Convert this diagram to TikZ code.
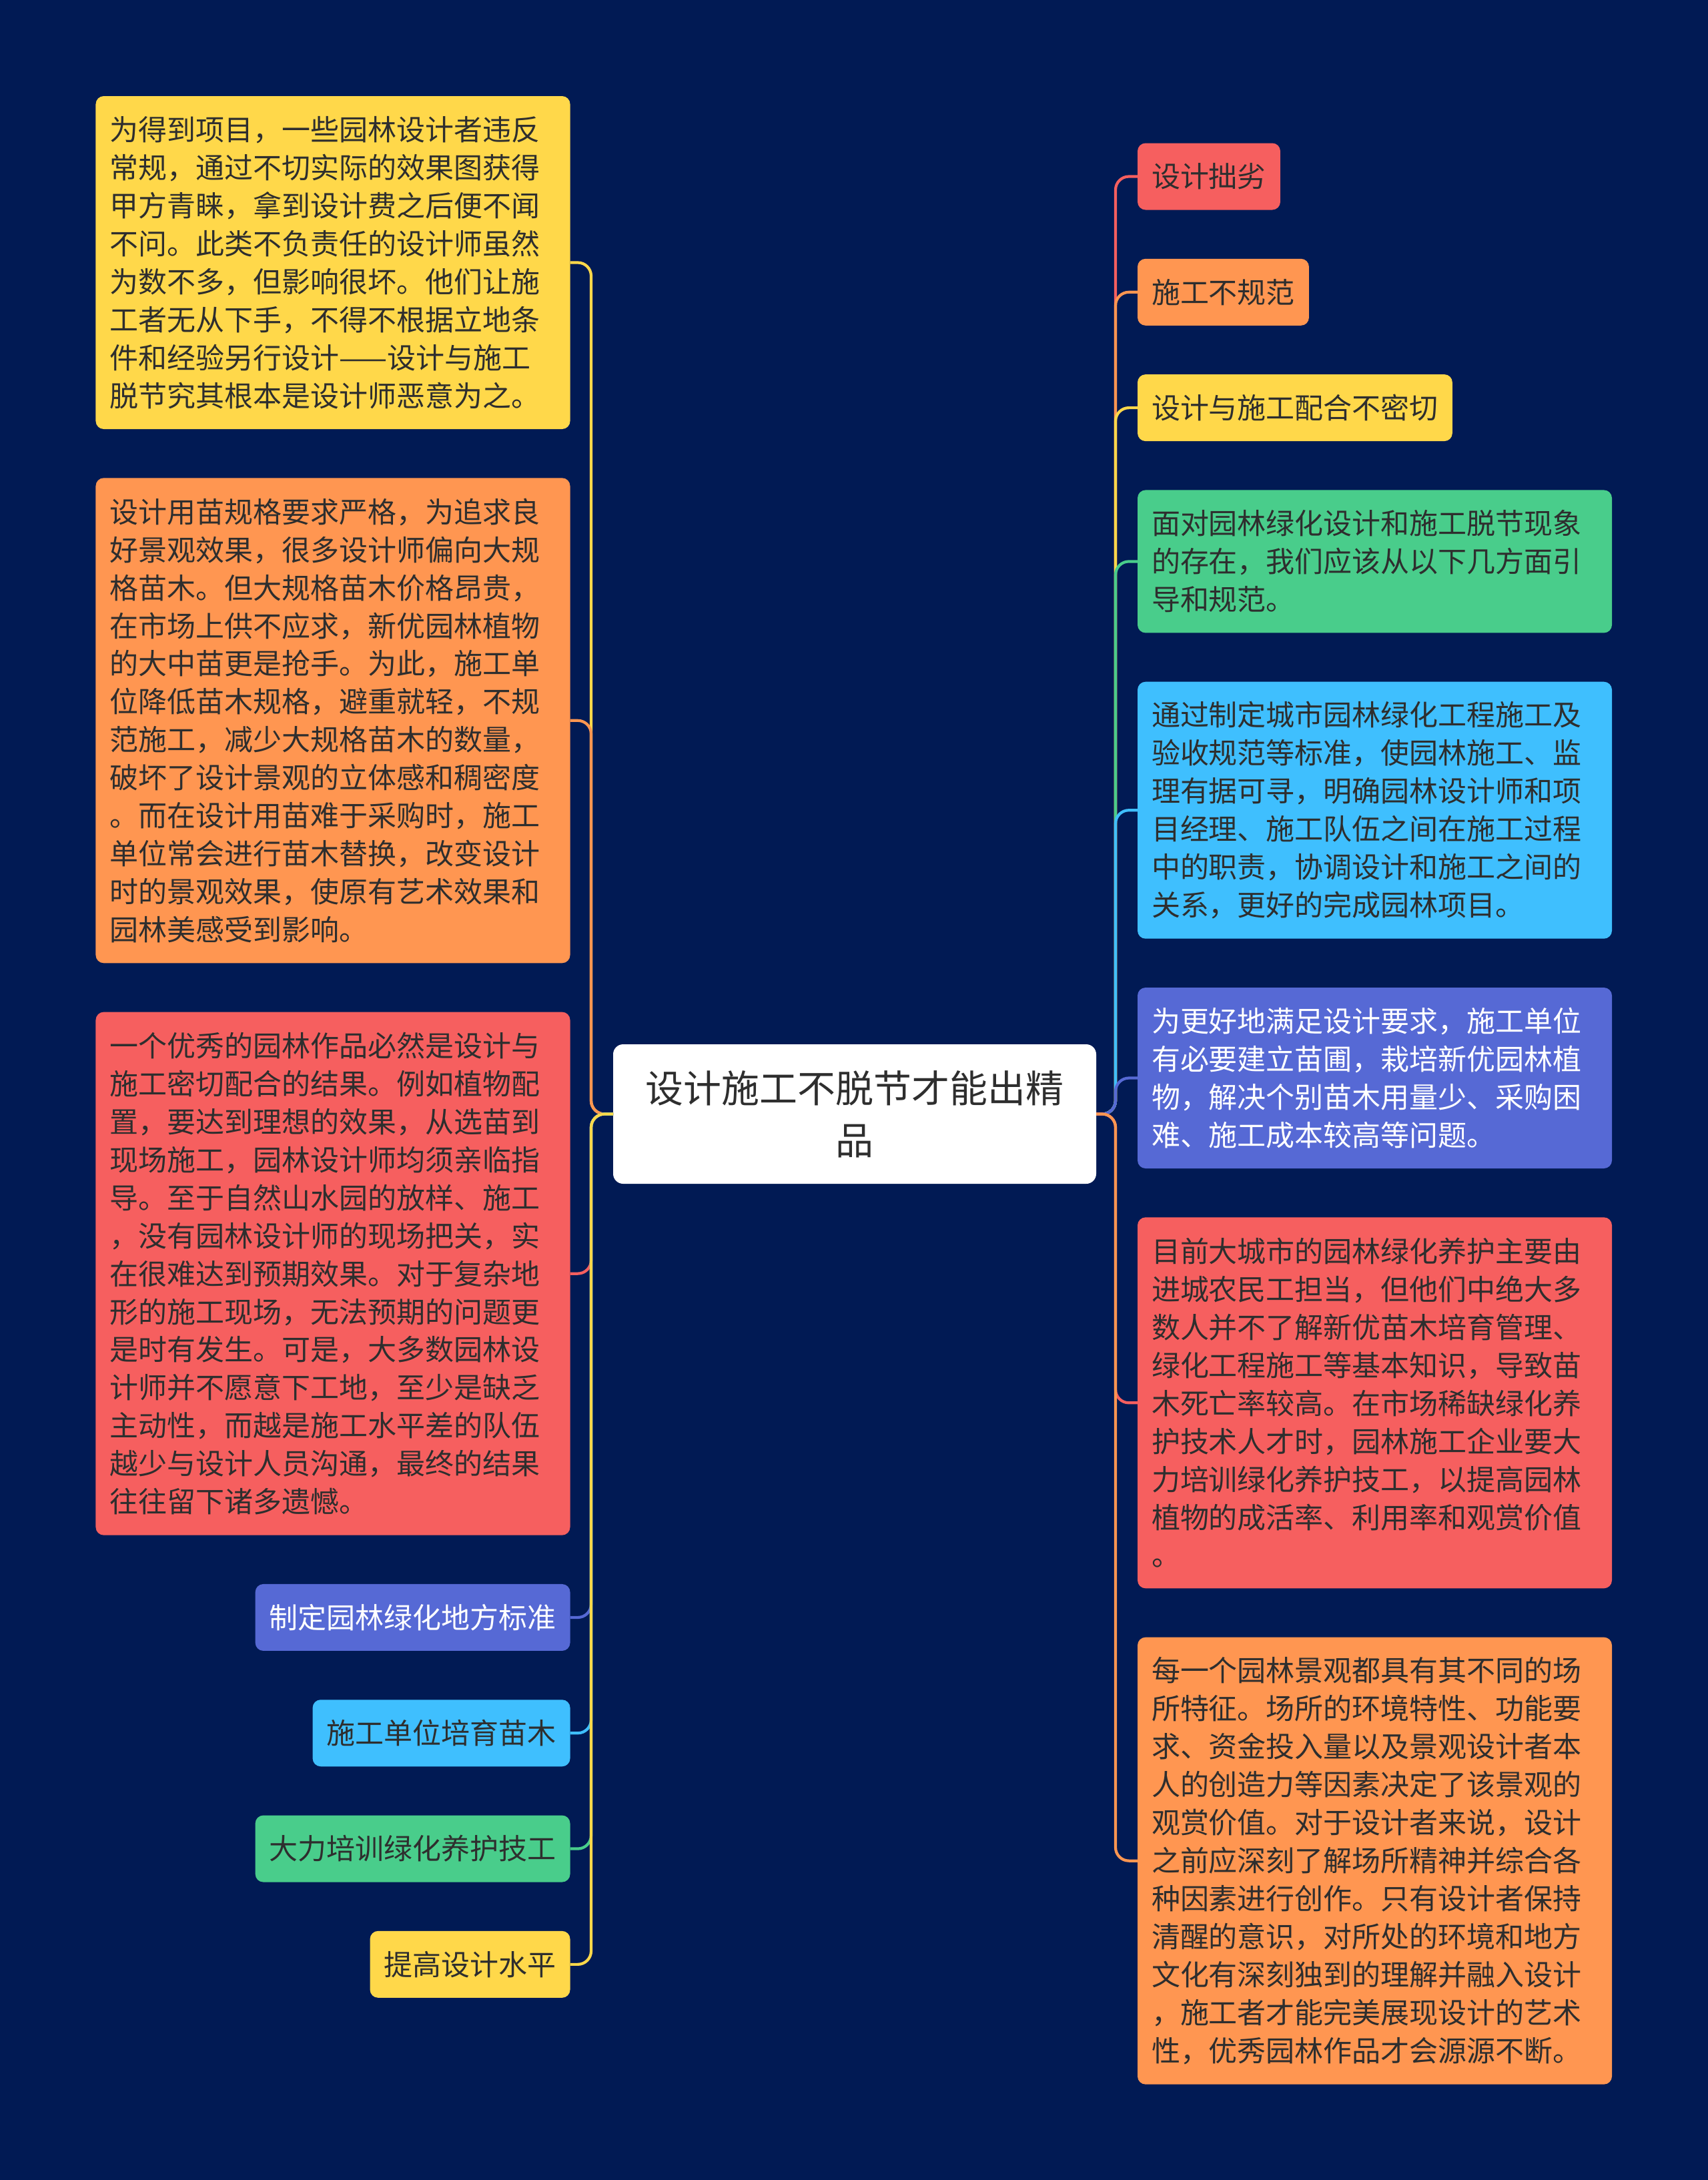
\documentclass[tikz,border=0pt]{standalone}
\usepackage{fontspec}
\newfontfamily\cjkfont{Noto Sans CJK SC}
\usetikzlibrary{positioning}
\definecolor{mapNavy}{HTML}{011A54}
\definecolor{mapRed}{HTML}{F65F5F}
\definecolor{mapOrange}{HTML}{FF9651}
\definecolor{mapYellow}{HTML}{FFD84A}
\definecolor{mapGreen}{HTML}{49CD8B}
\definecolor{mapSky}{HTML}{3FBFFE}
\definecolor{mapIndigo}{HTML}{5669D5}
\definecolor{inkDark}{HTML}{2E2E2E}

\begin{document}
\begin{tikzpicture}[
          box/.style={rounded corners=0.12cm,inner xsep=0.21cm,inner ysep=0.1cm,outer sep=0pt,
                      font=\cjkfont\fontsize{12.23}{16.2}\selectfont,text=inkDark,align=left},
          topic/.style={box,minimum height=1cm},
          para/.style={box,text width=6.69cm,minimum height={0.57cm*#1+0.43cm}},
          root/.style={fill=white,rounded corners=0.15cm,minimum width=7.24cm,minimum height=2.09cm,
                      outer sep=0pt,align=center,font=\cjkfont\fontsize{16.2}{22.2}\selectfont,text=inkDark},
          link/.style={draw=#1,line width=1.2pt,rounded corners=0.2cm}]
        \fill[mapNavy] (0,0) rectangle (25.6,-32.67);
        \useasboundingbox (0,0) rectangle (25.6,-32.67);
        \node[root] (root) at (12.81,-16.695) {设计施工不脱节才能出精\\品};
        \node[topic,fill=mapRed,anchor=north west] (r1) at (17.05,-2.145) {设计拙劣};
        \node[topic,fill=mapOrange,below=0.733cm of r1.south west,anchor=north west] (r2) {施工不规范};
        \node[topic,fill=mapYellow,below=0.733cm of r2.south west,anchor=north west] (r3) {设计与施工配合不密切};
        \node[para=3,fill=mapGreen,below=0.733cm of r3.south west,anchor=north west] (r4)
              {面对园林绿化设计和施工脱节现象\\的存在，我们应该从以下几方面引\\导和规范。};
        \node[para=6,fill=mapSky,below=0.733cm of r4.south west,anchor=north west] (r5)
              {通过制定城市园林绿化工程施工及\\验收规范等标准，使园林施工、监\\理有据可寻，明确园林设计师和项\\目经理、施工队伍之间在施工过程\\中的职责，协调设计和施工之间的\\关系，更好的完成园林项目。};
        \node[para=4,fill=mapIndigo,text=white,below=0.733cm of r5.south west,anchor=north west] (r6)
              {为更好地满足设计要求，施工单位\\有必要建立苗圃，栽培新优园林植\\物，解决个别苗木用量少、采购困\\难、施工成本较高等问题。};
        \node[para=9,fill=mapRed,below=0.733cm of r6.south west,anchor=north west] (r7)
              {目前大城市的园林绿化养护主要由\\进城农民工担当，但他们中绝大多\\数人并不了解新优苗木培育管理、\\绿化工程施工等基本知识，导致苗\\木死亡率较高。在市场稀缺绿化养\\护技术人才时，园林施工企业要大\\力培训绿化养护技工，以提高园林\\植物的成活率、利用率和观赏价值\\。};
        \node[para=11,fill=mapOrange,below=0.733cm of r7.south west,anchor=north west] (r8)
              {每一个园林景观都具有其不同的场\\所特征。场所的环境特性、功能要\\求、资金投入量以及景观设计者本\\人的创造力等因素决定了该景观的\\观赏价值。对于设计者来说，设计\\之前应深刻了解场所精神并综合各\\种因素进行创作。只有设计者保持\\清醒的意识，对所处的环境和地方\\文化有深刻独到的理解并融入设计\\，施工者才能完美展现设计的艺术\\性，优秀园林作品才会源源不断。};
        \node[para=8,fill=mapYellow,anchor=north east] (l1) at (8.545,-1.44)
              {为得到项目，一些园林设计者违反\\常规，通过不切实际的效果图获得\\甲方青睐，拿到设计费之后便不闻\\不问。此类不负责任的设计师虽然\\为数不多，但影响很坏。他们让施\\工者无从下手，不得不根据立地条\\件和经验另行设计——设计与施工\\脱节究其根本是设计师恶意为之。};
        \node[para=12,fill=mapOrange,below=0.733cm of l1.south east,anchor=north east] (l2)
              {设计用苗规格要求严格，为追求良\\好景观效果，很多设计师偏向大规\\格苗木。但大规格苗木价格昂贵，\\在市场上供不应求，新优园林植物\\的大中苗更是抢手。为此，施工单\\位降低苗木规格，避重就轻，不规\\范施工，减少大规格苗木的数量，\\破坏了设计景观的立体感和稠密度\\。而在设计用苗难于采购时，施工\\单位常会进行苗木替换，改变设计\\时的景观效果，使原有艺术效果和\\园林美感受到影响。};
        \node[para=13,fill=mapRed,below=0.733cm of l2.south east,anchor=north east] (l3)
              {一个优秀的园林作品必然是设计与\\施工密切配合的结果。例如植物配\\置，要达到理想的效果，从选苗到\\现场施工，园林设计师均须亲临指\\导。至于自然山水园的放样、施工\\，没有园林设计师的现场把关，实\\在很难达到预期效果。对于复杂地\\形的施工现场，无法预期的问题更\\是时有发生。可是，大多数园林设\\计师并不愿意下工地，至少是缺乏\\主动性，而越是施工水平差的队伍\\越少与设计人员沟通，最终的结果\\往往留下诸多遗憾。};
        \node[topic,fill=mapIndigo,text=white,below=0.733cm of l3.south east,anchor=north east] (l4) {制定园林绿化地方标准};
        \node[topic,fill=mapSky,below=0.733cm of l4.south east,anchor=north east] (l5) {施工单位培育苗木};
        \node[topic,fill=mapGreen,below=0.733cm of l5.south east,anchor=north east] (l6) {大力培训绿化养护技工};
        \node[topic,fill=mapYellow,below=0.733cm of l6.south east,anchor=north east] (l7) {提高设计水平};
        \draw[link=mapRed] (root.east) -- ++(0.29,0) |- (r1.west);
        \draw[link=mapOrange] (root.east) -- ++(0.29,0) |- (r2.west);
        \draw[link=mapYellow] (root.east) -- ++(0.29,0) |- (r3.west);
        \draw[link=mapGreen] (root.east) -- ++(0.29,0) |- (r4.west);
        \draw[link=mapSky] (root.east) -- ++(0.29,0) |- (r5.west);
        \draw[link=mapIndigo] (root.east) -- ++(0.29,0) |- (r6.west);
        \draw[link=mapRed] (root.east) -- ++(0.29,0) |- (r7.west);
        \draw[link=mapOrange] (root.east) -- ++(0.29,0) |- (r8.west);
        \draw[link=mapYellow] (root.west) -- ++(-0.33,0) |- (l1.east);
        \draw[link=mapOrange] (root.west) -- ++(-0.33,0) |- (l2.east);
        \draw[link=mapRed] (root.west) -- ++(-0.33,0) |- (l3.east);
        \draw[link=mapIndigo] (root.west) -- ++(-0.33,0) |- (l4.east);
        \draw[link=mapSky] (root.west) -- ++(-0.33,0) |- (l5.east);
        \draw[link=mapGreen] (root.west) -- ++(-0.33,0) |- (l6.east);
        \draw[link=mapYellow] (root.west) -- ++(-0.33,0) |- (l7.east);
      \end{tikzpicture}
\end{document}
